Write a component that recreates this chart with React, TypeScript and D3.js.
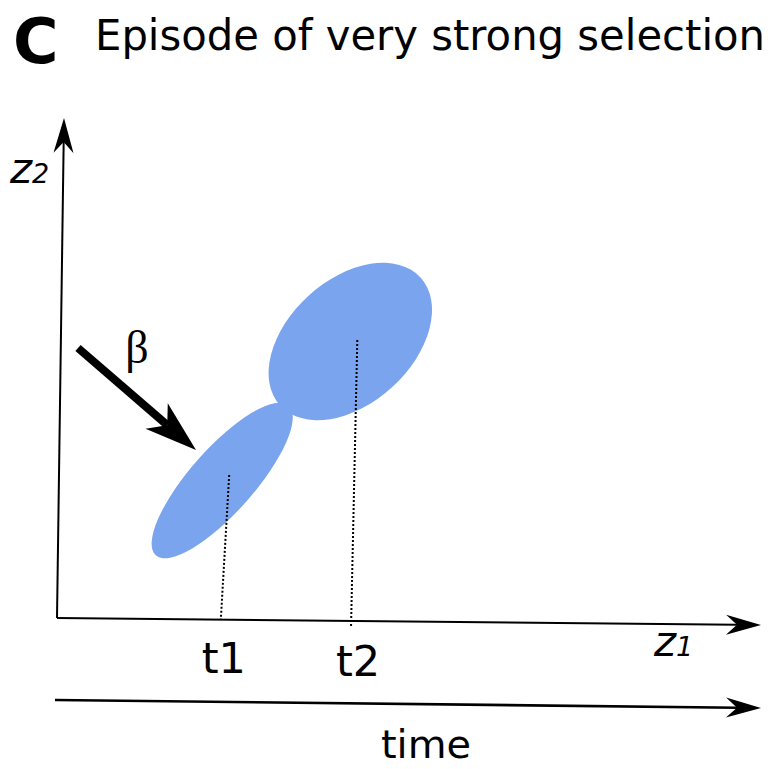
import React from "react";
import * as d3 from "d3";

// trait space (z1, z2) in arbitrary units
const generations = ["t1", "t2"];
const ellipseZ1 = [2.36, 4.19];
const ellipseZ2 = [2.75, 5.53];
const ellipseRx = [100, 95];
const ellipseRy = [32, 62];
const ellipseAngle = [-48.4, -42.3];
// dotted projection lines: mean -> axis
const meanZ1 = [2.46, 4.29];
const meanZ2 = [2.86, 5.56];
const baseZ1 = [2.34, 4.2];
const baseZ2 = [-0.04, -0.2];

const width = 776;
const height = 769;
const blue = "#7aa4ee";
const font = "'DejaVu Sans', Verdana, sans-serif";

const x = d3.scaleLinear().domain([0, 10]).range([57, 757]);
const y = d3.scaleLinear().domain([0, 10]).range([618, 118]);

// notched arrow head with its tip at (x2,y2)
function arrowHead(x1: number, y1: number, x2: number, y2: number, len: number, half: number, notch: number) {
  const a = Math.atan2(y2 - y1, x2 - x1);
  const ux = Math.cos(a), uy = Math.sin(a);
  const vx = -uy, vy = ux;
  const p = d3.path();
  p.moveTo(x2, y2);
  p.lineTo(x2 - ux * len + vx * half, y2 - uy * len + vy * half);
  p.lineTo(x2 - ux * notch, y2 - uy * notch);
  p.lineTo(x2 - ux * len - vx * half, y2 - uy * len - vy * half);
  p.closePath();
  return p.toString();
}

function Arrow({ x1, y1, x2, y2, w, len, half, notch }: any) {
  const a = Math.atan2(y2 - y1, x2 - x1);
  const ex = x2 - Math.cos(a) * notch;
  const ey = y2 - Math.sin(a) * notch;
  return (
    <g>
      <line x1={x1} y1={y1} x2={ex} y2={ey} stroke="#000" strokeWidth={w} />
      <path d={arrowHead(x1, y1, x2, y2, len, half, notch)} fill="#000" />
    </g>
  );
}

export default function App() {
  const ox = x(0), oy = y(0);
  return (
    <svg width={width} height={height} style={{ position: "absolute", left: 0, top: 0, background: "#fff" }}>
      {/* title */}
      <text x={13} y={63} fontFamily={font} fontWeight="bold" fontSize={62}>C</text>
      <text x={95} y={50} fontFamily={font} fontSize={43} textLength={670} lengthAdjust="spacingAndGlyphs">
        Episode of very strong selection
      </text>

      {/* ellipses */}
      {generations.map((g, i) => (
        <ellipse
          key={g}
          cx={0}
          cy={0}
          rx={ellipseRx[i]}
          ry={ellipseRy[i]}
          fill={blue}
          transform={`translate(${x(ellipseZ1[i])},${y(ellipseZ2[i])}) rotate(${ellipseAngle[i]})`}
        />
      ))}

      {/* dotted projections */}
      {generations.map((g, i) => (
        <line
          key={g + "d"}
          x1={x(meanZ1[i])}
          y1={y(meanZ2[i])}
          x2={x(baseZ1[i])}
          y2={y(baseZ2[i])}
          stroke="#000"
          strokeWidth={2}
          strokeDasharray="2,2"
        />
      ))}

      {/* axes */}
      <Arrow x1={ox} y1={oy} x2={64} y2={118} w={2} len={35} half={10} notch={24} />
      <Arrow x1={ox} y1={oy} x2={761} y2={625} w={2} len={35} half={10} notch={24} />
      <Arrow x1={55} y1={700} x2={761} y2={708} w={2.6} len={35} half={10} notch={24} />

      {/* selection gradient */}
      <Arrow x1={78} y1={348} x2={196} y2={450} w={8} len={52} half={17} notch={38} />
      <text x={137} y={363} textAnchor="middle" fontFamily="'Liberation Serif', serif" fontSize={46}>β</text>

      {/* labels */}
      <text x={10} y={183} fontFamily={font} fontStyle="italic" fontSize={42}>
        z<tspan fontSize={27}>2</tspan>
      </text>
      <text x={654} y={656} fontFamily={font} fontStyle="italic" fontSize={42}>
        z<tspan fontSize={27}>1</tspan>
      </text>
      {generations.map((g, i) => (
        <text
          key={g + "l"}
          x={x(baseZ1[i]) + 3 + i * 4}
          y={y(baseZ2[i]) + 53 - i * 5}
          textAnchor="middle"
          fontFamily={font}
          fontSize={43}
        >
          {g}
        </text>
      ))}
      <text x={426} y={758} textAnchor="middle" fontFamily={font} fontSize={39} textLength={90} lengthAdjust="spacingAndGlyphs">time</text>
    </svg>
  );
}
